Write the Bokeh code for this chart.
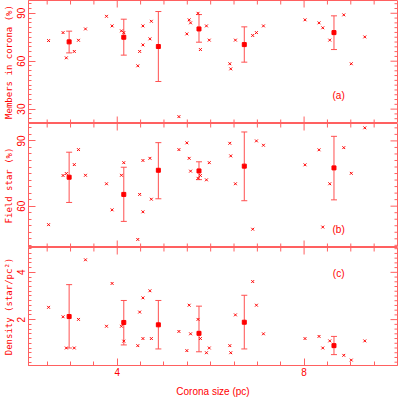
import numpy as np
from bokeh.plotting import figure
from bokeh.layouts import column
from bokeh.models import (Range1d, LinearAxis, FixedTicker, Whisker, TeeHead,
                          ColumnDataSource, Label)
from bokeh.embed import file_html
from bokeh.resources import INLINE

# ---------------- data ----------------
size_pc = [2.53, 2.84, 2.91, 3.08, 3.17, 3.32, 3.77, 3.89, 4.09, 4.14,
           4.44, 4.48, 4.55, 4.55, 4.70, 4.73, 5.32, 5.49, 5.54, 5.57,
           5.73, 5.78, 5.91, 5.97, 6.41, 6.43, 6.53, 6.90, 6.98, 7.13,
           8.02, 8.32, 8.40, 8.55, 8.85, 9.01, 9.30]
members_pct = [72.9, 77.9, 62.1, 66.1, 73.1, 80.2, 88.1, 82.1, 79.0, 77.9,
               57.1, 66.1, 82.1, 70.2, 74.0, 85.0, 25.3, 77.1, 85.9, 84.0,
               90.0, 67.3, 82.1, 73.2, 58.4, 55.2, 73.2, 76.1, 77.9, 82.1,
               85.9, 84.0, 80.9, 73.2, 89.0, 58.4, 75.2]
field_pct = [51.5, 74.1, 75.0, 79.1, 86.0, 74.2, 70.3, 58.3, 74.2, 80.0,
             44.7, 65.4, 81.0, 57.4, 82.0, 63.2, 86.0, 89.1, 82.0, 76.1,
             72.8, 74.1, 72.1, 80.0, 88.9, 83.1, 70.3, 49.4, 90.0, 88.0,
             79.0, 85.9, 50.4, 70.3, 86.9, 75.1, 96.0]
density = [2.52, 2.12, 0.80, 0.80, 2.01, 4.53, 1.72, 3.53, 1.72, 1.09,
           0.90, 2.32, 2.92, 1.20, 3.22, 1.20, 1.50, 0.69, 2.61, 1.40,
           2.01, 1.20, 0.60, 0.80, 0.90, 0.60, 2.20, 3.61, 2.61, 1.40,
           1.20, 1.29, 0.80, 1.10, 0.49, 0.29, 1.10]

mean_size = [2.97, 4.14, 4.88, 5.75, 6.72, 8.64]
members_mean = [72.1, 75.0, 69.2, 80.2, 70.4, 77.9]
members_lo = [65.2, 63.8, 47.3, 71.9, 59.4, 67.3]
members_hi = [78.8, 86.3, 91.1, 89.2, 81.5, 88.4]
field_mean = [73.3, 65.4, 76.5, 76.2, 78.4, 77.6]
field_lo = [61.7, 53.0, 63.4, 72.2, 62.5, 62.9]
field_hi = [84.8, 77.9, 89.2, 80.4, 94.1, 92.1]
density_mean = [2.13, 1.88, 1.78, 1.42, 1.89, 0.90]
density_lo = [0.80, 0.93, 0.76, 0.64, 0.76, 0.52]
density_hi = [3.48, 2.81, 2.81, 2.57, 3.03, 1.29]

x_major = [4, 8]
x_label = "Corona size (pc)"

RED = "#ff0000"
AX = "#ff6060"
ERR = "#ff5050"

X0, X1 = 2.1, 10.0
xr = Range1d(X0, X1)
x_minor = [float(v) for v in np.arange(2.5, 10.0, 0.5) if v not in x_major]


def mirror_ticks(p, y0, y1, yticks, yminor, bottom):
    # right-hand y ticks (pointing left into the frame)
    p.ray(x=[X1] * len(yticks), y=yticks, length=7, length_units="screen",
          angle=np.pi, line_color=AX, line_width=1)
    p.ray(x=[X1] * len(yminor), y=yminor, length=3, length_units="screen",
          angle=np.pi, line_color=AX, line_width=1)
    # top x ticks (pointing down)
    p.ray(x=x_major, y=[y1] * len(x_major), length=7, length_units="screen",
          angle=-np.pi / 2, line_color=AX, line_width=1)
    p.ray(x=x_minor, y=[y1] * len(x_minor), length=4, length_units="screen",
          angle=-np.pi / 2, line_color=AX, line_width=1)
    if not bottom:
        p.ray(x=x_major, y=[y0] * len(x_major), length=7,
              length_units="screen", angle=np.pi / 2, line_color=AX,
              line_width=1)
        p.ray(x=x_minor, y=[y0] * len(x_minor), length=4,
              length_units="screen", angle=np.pi / 2, line_color=AX,
              line_width=1)


def make_panel(ylabel, yr, yticks, yminor, height, xs, ys, m, lo, hi,
               tag, tag_y, bottom):
    p = figure(width=398, height=height, x_range=xr, y_range=Range1d(*yr),
               output_backend="svg", toolbar_location=None,
               x_axis_location=None, y_axis_location=None,
               min_border_left=27, min_border_right=1,
               min_border_top=0, min_border_bottom=28 if bottom else 0)
    p.outline_line_color = AX
    p.outline_line_width = 1
    p.grid.grid_line_color = None
    p.background_fill_color = "white"
    p.border_fill_color = "white"

    left = LinearAxis(ticker=FixedTicker(ticks=yticks, minor_ticks=yminor),
                      axis_label=ylabel)
    left.axis_line_color = AX
    left.major_tick_line_color = AX
    left.minor_tick_line_color = AX
    left.major_tick_out = 0
    left.minor_tick_out = 0
    left.major_tick_in = 7
    left.minor_tick_in = 3
    left.major_label_text_color = RED
    left.major_label_text_font = "Liberation Sans"
    left.major_label_text_font_size = "10px"
    left.major_label_orientation = "vertical"
    left.major_label_standoff = 3
    left.axis_label_standoff = 1
    left.axis_label_text_color = RED
    left.axis_label_text_font = "DejaVu Sans Mono"
    left.axis_label_text_font_size = "9px"
    left.axis_label_text_font_style = "normal"
    p.add_layout(left, "left")

    if bottom:
        below = LinearAxis(ticker=FixedTicker(ticks=x_major,
                                              minor_ticks=x_minor),
                           axis_label=x_label)
        below.axis_line_color = AX
        below.major_tick_line_color = AX
        below.minor_tick_line_color = AX
        below.major_tick_out = 0
        below.minor_tick_out = 0
        below.major_tick_in = 7
        below.minor_tick_in = 4
        below.major_label_text_color = RED
        below.major_label_text_font = "Liberation Sans"
        below.major_label_text_font_size = "10px"
        below.major_label_standoff = 2
        below.axis_label_standoff = 7
        below.axis_label_text_color = RED
        below.axis_label_text_font = "Liberation Sans"
        below.axis_label_text_font_size = "10px"
        below.axis_label_text_font_style = "normal"
        p.add_layout(below, "below")

    mirror_ticks(p, yr[0], yr[1], yticks, yminor, bottom)

    p.scatter(xs, ys, marker="x", size=4, line_color=RED, line_width=1)

    src = ColumnDataSource(dict(x=mean_size, m=m, lo=lo, hi=hi))
    w = Whisker(base="x", lower="lo", upper="hi", source=src,
                dimension="height", line_color=ERR, line_width=1,
                upper_head=TeeHead(size=6, line_color=ERR, line_width=1),
                lower_head=TeeHead(size=6, line_color=ERR, line_width=1))
    p.add_layout(w)
    p.scatter("x", "m", source=src, marker="square", size=4,
              fill_color=RED, line_color=RED)

    p.add_layout(Label(x=8.74, y=tag_y, text=tag, text_color=RED,
                       text_font="Liberation Sans", text_font_size="10px",
                       text_align="center", text_baseline="middle"))
    return p


pa = make_panel("Members in corona (%)", (21, 98), [30, 60, 90],
                [float(v) for v in np.arange(21, 98, 3) if v % 30],
                123, size_pc, members_pct, members_mean, members_lo,
                members_hi, "(a)", 38.6, False)
pb = make_panel("Field star (%)", (41, 98), [60, 90],
                [float(v) for v in np.arange(42, 98, 3) if v % 30],
                124, size_pc, field_pct, field_mean, field_lo, field_hi,
                "(b)", 49.3, False)
pc = make_panel("Density (star/pc\u00b2)", (0.06, 5.05), [2, 4],
                [round(float(v), 1) for v in np.arange(0.2, 5.05, 0.2)
                 if round(float(v), 1) not in (2.0, 4.0)],
                152, size_pc, density, density_mean, density_lo, density_hi,
                "(c)", 3.93, True)

layout = column(pa, pb, pc, spacing=0, margin=0)

open("out.html", "w").write(file_html(layout, INLINE))
